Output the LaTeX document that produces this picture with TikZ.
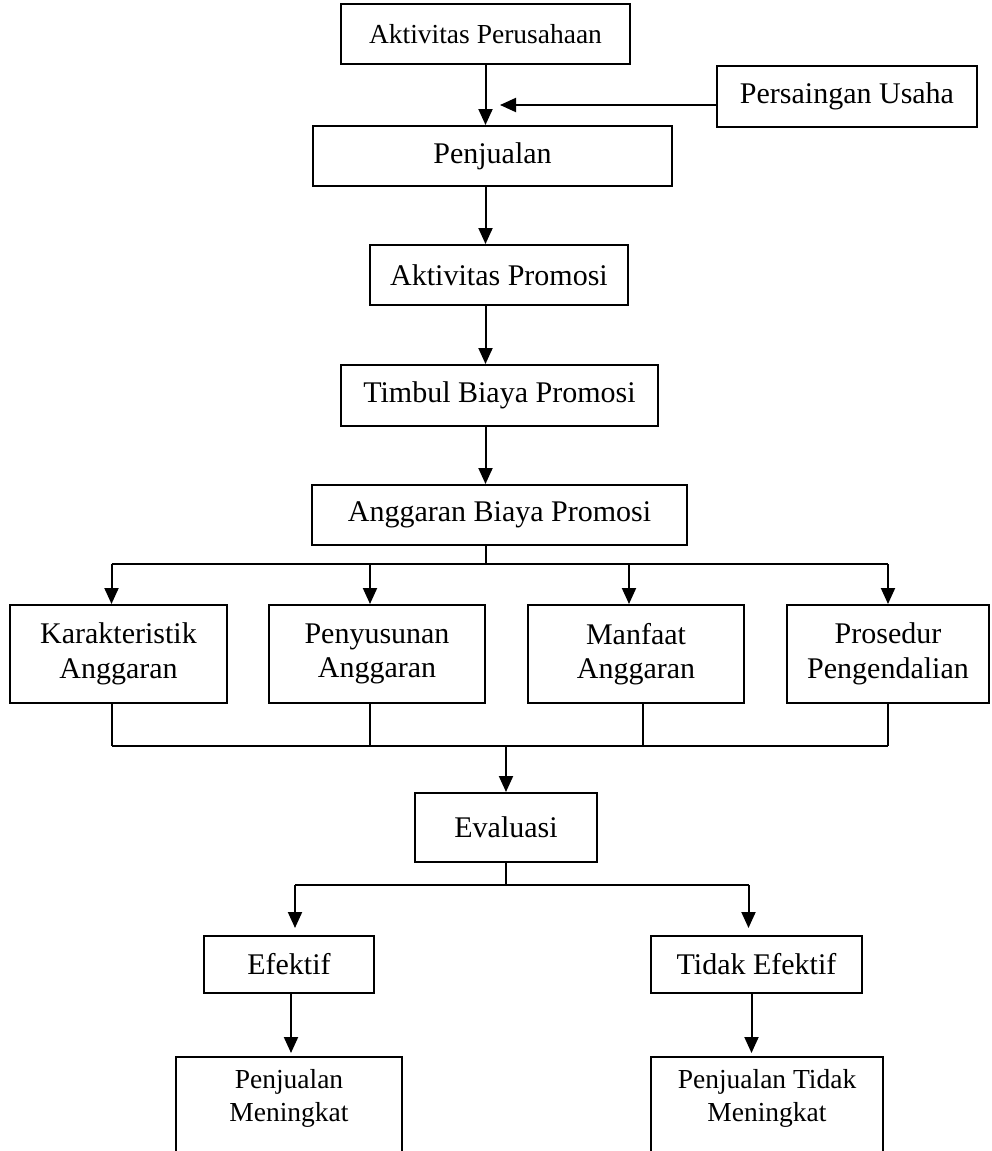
\documentclass[tikz,border=0pt]{standalone}
\usepackage{fontspec}
\setmainfont{Liberation Serif}
\usetikzlibrary{arrows.meta,positioning}

\begin{document}
\begin{tikzpicture}[
  x=1pt, y=-1pt,
  box/.style={rectangle, draw, line width=2pt, inner sep=0pt, align=center, font=\fontsize{30}{34.5}\selectfont},
  small/.style={font=\fontsize{27.5}{33}\selectfont},
  arrow/.style={-{Triangle[length=16pt,width=14pt]}, line width=2pt},
  line/.style={line width=2pt}
]
\useasboundingbox (0,0) rectangle (992,1151);

\node[box, small, minimum width=289, minimum height=60] (aktp) at (485.5,34) {Aktivitas Perusahaan};
\node[box, minimum width=260, minimum height=61] (saing) at (847,96.5) {Persaingan Usaha};
\node[box, minimum width=359, minimum height=60] (jual) at (492.5,156) {Penjualan};
\node[box, minimum width=258, minimum height=60] (promo) at (499,275) {Aktivitas Promosi};
\node[box, minimum width=317, minimum height=61] (timbul) at (499.5,395.5) {Timbul Biaya Promosi};
\node[box, minimum width=375, minimum height=60] (anggaran) at (499.5,515) {Anggaran Biaya Promosi};

\node[box, minimum width=217, minimum height=98] (kar) at (118.5,654) {Karakteristik\\Anggaran};
\node[box, minimum width=216, minimum height=98] (susun) at (377,654) {Penyusunan\\Anggaran};
\node[box, minimum width=216, minimum height=98] (manfaat) at (636,654) {Manfaat\\Anggaran};
\node[box, minimum width=202, minimum height=98] (prosedur) at (888,654) {Prosedur\\Pengendalian};

\node[box, minimum width=182, minimum height=69] (eval) at (506,827.5) {Evaluasi};
\node[box, minimum width=170, minimum height=57] (efektif) at (289,964.5) {Efektif};
\node[box, minimum width=211, minimum height=57] (tidak) at (756.5,964.5) {Tidak Efektif};

\node[box, anchor=north, minimum width=226, minimum height=120] (naik) at (289,1056) {};
\node[small, align=center] (naiktxt) at (289,1098) {Penjualan\\Meningkat};
\node[box, anchor=north, minimum width=232, minimum height=120] (tnaik) at (767,1056) {};
\node[small, align=center] (tnaiktxt) at (767,1098) {Penjualan Tidak\\Meningkat};

\draw[arrow] (aktp) -- (aktp |- jual.north);
\coordinate (meet) at (500,105);
\draw[arrow] (saing.west |- meet) -- (meet);
\draw[arrow] (jual.south -| aktp) -- (promo.north -| aktp);
\draw[arrow] (promo.south -| aktp) -- (timbul.north -| aktp);
\draw[arrow] (timbul.south -| aktp) -- (anggaran.north -| aktp);

\draw[line] (anggaran.south -| aktp) -- ++(0,18) coordinate (bus);
\draw[line] ([xshift=-7]kar.north |- bus) -- (prosedur.north |- bus);
\foreach \n/\dx in {kar/-7, susun/-7, manfaat/-7, prosedur/0}
  \draw[arrow] ([xshift=\dx]\n.north |- bus) -- ([xshift=\dx]\n.north);

\coordinate (join) at (0,746);
\foreach \n/\dx in {kar/-7, susun/-7, manfaat/7, prosedur/0}
  \draw[line] ([xshift=\dx]\n.south) -- ([xshift=\dx]\n.south |- join);
\draw[line] ([xshift=-7]kar.south |- join) -- (prosedur.south |- join);
\draw[arrow] (eval.north |- join) -- (eval);

\draw[line] (eval.south) -- ++(0,22) coordinate (split);
\draw[line] ([xshift=6]efektif.north |- split) -- ([xshift=-8]tidak.north |- split);
\draw[arrow, shorten >=7pt] ([xshift=6]efektif.north |- split) -- ([xshift=6]efektif.north);
\draw[arrow, shorten >=7pt] ([xshift=-8]tidak.north |- split) -- ([xshift=-8]tidak.north);
\draw[arrow, shorten >=3pt] ([xshift=2]efektif.south) -- ([xshift=2]efektif.south |- naik.north);
\draw[arrow, shorten >=3pt] ([xshift=-5]tidak.south) -- ([xshift=-5]tidak.south |- tnaik.north);

\end{tikzpicture}
\end{document}
